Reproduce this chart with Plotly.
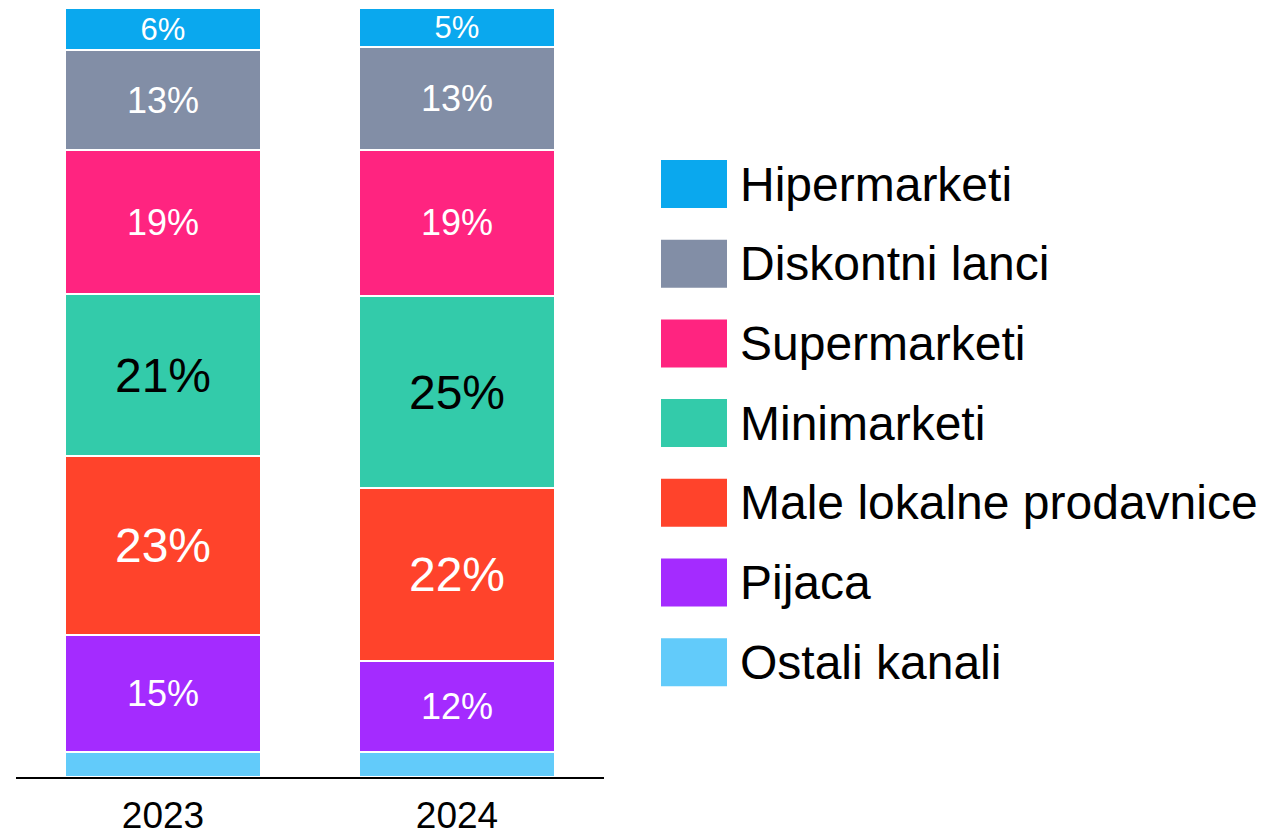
import plotly.graph_objects as go

# ---- data ----
years = ["2023", "2024"]
series_names = ["Ostali kanali", "Pijaca", "Male lokalne prodavnice", "Minimarketi",
                "Supermarketi", "Diskontni lanci", "Hipermarketi"]
ostali = [3.2, 3.2]
pijaca = [15.3, 11.9]
male = [23.2, 22.5]
mini = [21.1, 24.9]
supermarketi = [18.7, 19.1]
diskont = [13.0, 13.3]
hiper = [5.5, 5.1]

labels_ostali = ["", ""]
labels_pijaca = ["15%", "12%"]
labels_male = ["23%", "22%"]
labels_mini = ["21%", "25%"]
labels_super = ["19%", "19%"]
labels_diskont = ["13%", "13%"]
labels_hiper = ["6%", "5%"]

# ---- styles ----
colors = ["#62CBFA", "#A42BFF", "#FF432B", "#33CBAA", "#FF2480", "#828EA6", "#0AA8EE"]
text_sizes = [36, 36, 48, 48, 36, 36, 31]
text_colors = ["white", "white", "white", "black", "white", "white", "white"]
FONT = "Liberation Sans, Arial, sans-serif"

values = [ostali, pijaca, male, mini, supermarketi, diskont, hiper]
labels = [labels_ostali, labels_pijaca, labels_male, labels_mini, labels_super,
          labels_diskont, labels_hiper]

# page body has an 8px margin; coordinates below are page pixels minus 8
OFF = 8
W, H = 1265, 829
L, R, T, B = 8, 669, 0, 60
PW, PH = W - L - R, H - T - B

fig = go.Figure()
for name, vals, labs, col, ts, tc in zip(series_names, values, labels, colors,
                                         text_sizes, text_colors):
    fig.add_trace(go.Bar(
        x=years, y=vals, name=name, text=labs,
        textposition="inside", insidetextanchor="middle",
        textangle=0, constraintext="none",
        textfont=dict(size=ts, color=tc, family=FONT),
        marker=dict(color=col, line=dict(color="white", width=2)),
        hoverinfo="x+y+name",
    ))

def px_x(x):
    return (x - OFF - L) / PW

def px_y(y):
    return (H - B - (y - OFF)) / PH

# custom legend (large swatches)
legend_order = list(range(len(series_names)))[::-1]  # top: Hipermarketi
y_start, y_step = 184, 79.7
for i, idx in enumerate(legend_order):
    cy = y_start + i * y_step
    fig.add_shape(type="rect", xref="paper", yref="paper",
                  x0=px_x(661), x1=px_x(727), y0=px_y(cy + 24), y1=px_y(cy - 24),
                  fillcolor=colors[idx], line=dict(width=0))
    fig.add_annotation(xref="paper", yref="paper", x=px_x(738), y=px_y(cy),
                       xanchor="left", yanchor="middle", showarrow=False,
                       text=series_names[idx],
                       font=dict(size=48, color="black", family=FONT))

fig.update_layout(
    barmode="stack",
    bargap=0.332,
    width=W, height=H,
    margin=dict(l=L, r=R, t=T, b=B, pad=0, autoexpand=False),
    paper_bgcolor="white", plot_bgcolor="white",
    showlegend=False,
    font=dict(family=FONT, color="black"),
    xaxis=dict(showline=True, linecolor="black", linewidth=2, ticks="",
               ticklabelstandoff=5, automargin=False,
               tickfont=dict(size=37, color="black", family=FONT),
               showgrid=False, zeroline=False),
    yaxis=dict(visible=False, range=[0, 100], showgrid=False, zeroline=False,
               automargin=False),
)

fig.write_html("out.html")
